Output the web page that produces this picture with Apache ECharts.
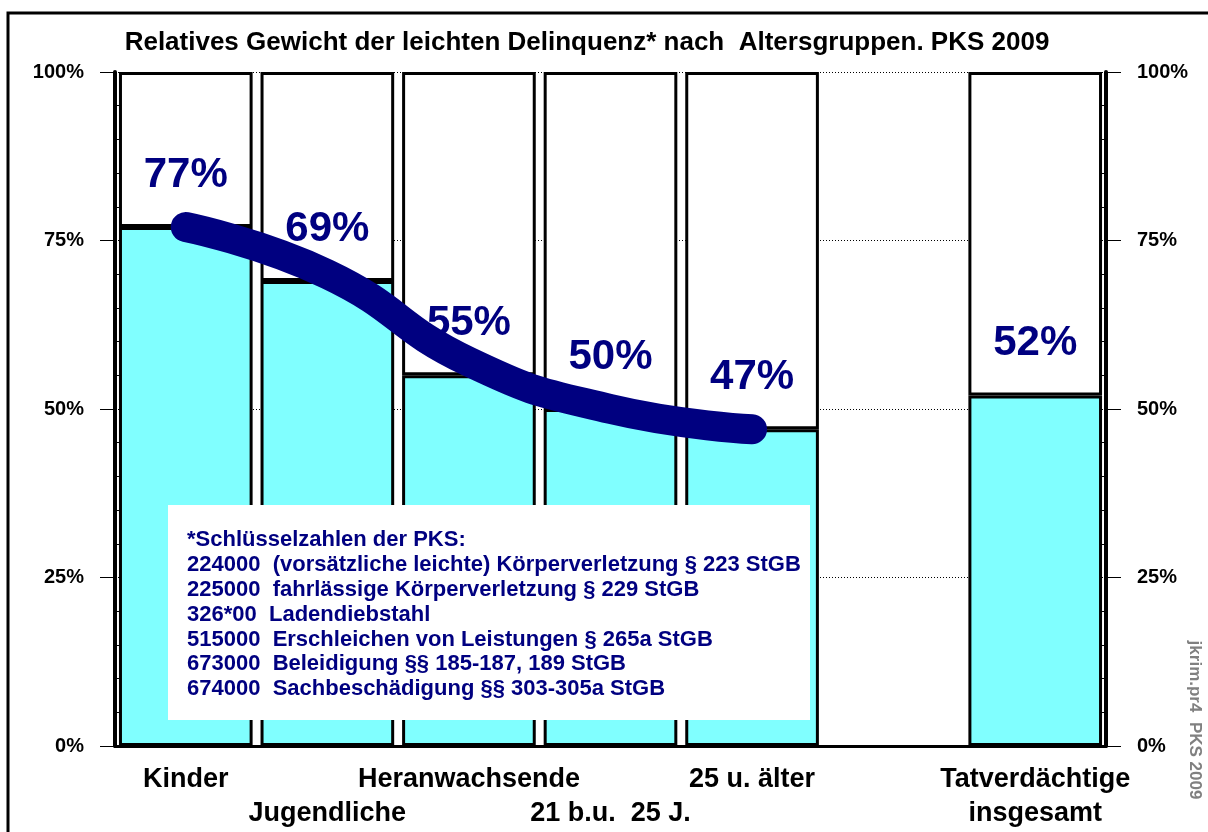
<!DOCTYPE html>
<html>
<head>
<meta charset="utf-8">
<script src="https://cdn.jsdelivr.net/npm/echarts@6/dist/echarts.min.js"></script>
<style>
  html, body { margin: 0; padding: 0; background: #fff; }
  #chart { width: 1208px; height: 832px; }
</style>
</head>
<body>
<div id="chart"></div>
<script>
// Altersgruppen (leere Spalte als Abstand vor "insgesamt")
var categories = ['Kinder', 'Jugendliche', 'Heranwachsende', '21 b.u.  25 J.', '25 u. älter', '', 'Tatverdächtige\ninsgesamt'];
// Anteil leichte Delinquenz in %
var shareLight = [77, 69, 55, 50, 47, '-', 52];
// Verlaufslinie (dicke Kurve über die Altersgruppen)
var trendLine = [77, 70, 57, 50, 47, '-', '-'];

var legendLines = [
  '*Schlüsselzahlen der PKS:',
  '224000  (vorsätzliche leichte) Körperverletzung § 223 StGB',
  '225000  fahrlässige Körperverletzung § 229 StGB',
  '326*00  Ladendiebstahl',
  '515000  Erschleichen von Leistungen § 265a StGB',
  '673000  Beleidigung §§ 185-187, 189 StGB',
  '674000  Sachbeschädigung §§ 303-305a StGB'
];

var rest = shareLight.map(function (v) { return v === '-' ? '-' : 100 - v; });

var chart = echarts.init(document.getElementById('chart'));

var yAxisBase = {
  type: 'value',
  min: 0,
  max: 100,
  interval: 25,
  axisLine: { show: true, lineStyle: { color: '#000', width: 4 } },
  axisTick: { show: true, length: 15, lineStyle: { color: '#000', width: 1 } },
  minorTick: { show: true, splitNumber: 5, length: -6, lineStyle: { color: '#000', width: 1 } },
  axisLabel: {
    formatter: '{value}%',
    color: '#000',
    fontFamily: 'Liberation Sans, Arial, sans-serif',
    fontWeight: 'bold',
    fontSize: 20,
    margin: 31
  }
};

var option = {
  backgroundColor: '#fff',
  animation: false,
  title: {
    text: 'Relatives Gewicht der leichten Delinquenz* nach  Altersgruppen. PKS 2009',
    left: 582,
    textAlign: 'center',
    top: 25,
    textStyle: {
      color: '#000',
      fontFamily: 'Liberation Sans, Arial, sans-serif',
      fontWeight: 'bold',
      fontSize: 26
    }
  },
  grid: { left: 115, right: 102, top: 72, bottom: 86 },
  xAxis: {
    type: 'category',
    data: categories,
    axisLine: { show: true, lineStyle: { color: '#000', width: 3 } },
    axisTick: { show: false },
    axisLabel: {
      interval: 0,
      margin: 17,
      color: '#000',
      fontFamily: 'Liberation Sans, Arial, sans-serif',
      fontWeight: 'bold',
      fontSize: 27,
      lineHeight: 34,
      formatter: function (v, i) { return i % 2 ? '\n' + v : v; }
    }
  },
  yAxis: [
    Object.assign({}, yAxisBase, {
      position: 'left',
      splitLine: { show: true, lineStyle: { color: '#000', width: 1, type: [1, 2] } }
    }),
    Object.assign({}, yAxisBase, {
      position: 'right',
      splitLine: { show: false }
    })
  ],
  graphic: [
    {
      type: 'rect',
      shape: { x: 8, y: 13, width: 1220, height: 840 },
      style: { fill: 'none', stroke: '#000', lineWidth: 3 },
      z: 100
    },
    {
      type: 'rect',
      shape: { x: 168, y: 505, width: 642, height: 215 },
      style: { fill: '#fff' },
      z: 50
    },
    {
      type: 'text',
      left: 187,
      top: 528,
      z: 51,
      style: {
        text: legendLines.join('\n'),
        fill: '#000080',
        fontFamily: 'Liberation Sans, Arial, sans-serif',
        fontWeight: 'bold',
        fontSize: 22,
        lineHeight: 24.8
      }
    },
    {
      type: 'text',
      x: 1195,
      y: 720,
      rotation: -Math.PI / 2,
      z: 51,
      style: {
        text: 'jkrim.pr4  PKS 2009',
        fill: '#808080',
        fontFamily: 'Liberation Sans, Arial, sans-serif',
        fontWeight: 'bold',
        fontSize: 17,
        align: 'center',
        verticalAlign: 'middle'
      }
    }
  ],
  series: [
    {
      name: 'leicht',
      type: 'bar',
      stack: 'total',
      data: shareLight,
      barCategoryGap: '5.6%',
      itemStyle: { color: '#80FFFF', borderColor: '#000', borderWidth: 3 },
      label: {
        show: true,
        position: 'top',
        distance: 31,
        formatter: '{c}%',
        color: '#000080',
        fontFamily: 'Liberation Sans, Arial, sans-serif',
        fontWeight: 'bold',
        fontSize: 42
      },
      z: 2
    },
    {
      name: 'rest',
      type: 'bar',
      stack: 'total',
      data: rest,
      itemStyle: { color: '#fff', borderColor: '#000', borderWidth: 3 },
      z: 1
    },
    {
      name: 'trend',
      type: 'line',
      data: trendLine,
      smooth: 0.5,
      showSymbol: false,
      symbol: 'none',
      lineStyle: { color: '#000080', width: 30, cap: 'round', join: 'round' },
      z: 5
    }
  ]
};

chart.setOption(option);
</script>
</body>
</html>
